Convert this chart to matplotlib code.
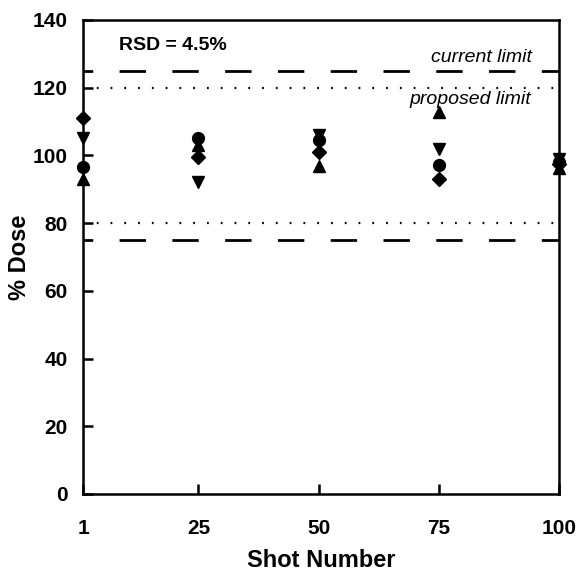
import matplotlib.pyplot as plt

plt.rcParams['font.family'] = ['Liberation Sans', 'DejaVu Sans']

# shot numbers and % dose per sample series
shots = [1, 25, 50, 75, 100]
dose_diamond = [111, 99.5, 101, 93, 97.5]
dose_down = [105, 92, 106, 102, 98.8]
dose_circle = [96.5, 105, 104.5, 97.2, 98]
dose_up = [93, 103, 96.8, 112.7, 96.3]

current_limits = [125, 75]
proposed_limits = [120, 80]

fig = plt.figure(figsize=(5.78, 5.71), dpi=100)
ax = fig.add_axes([0.1436, 0.135, 0.8234, 0.830])

for y in current_limits:
    ax.axhline(y, color="black", lw=2, linestyle=(6, (9.5, 9.5)))
for y in proposed_limits:
    ax.axhline(y, color="black", lw=1.6, linestyle=(0, (0.8, 5.4)))

ax.plot(shots, dose_diamond, "D", color="black", ms=7, clip_on=False, zorder=5)
ax.plot(shots, dose_down, "v", color="black", ms=8.5, clip_on=False, zorder=5)
ax.plot(shots, dose_circle, "o", color="black", ms=8.5, clip_on=False, zorder=5)
ax.plot(shots, dose_up, "^", color="black", ms=8.5, clip_on=False, zorder=5)

ax.text(8.5, 132.6, "RSD = 4.5%", fontsize=14, fontweight="bold", va="center")
ax.text(94.3, 129, "current limit", fontsize=14, fontstyle="italic", ha="right", va="center")
ax.text(94.3, 116.4, "proposed limit", fontsize=14, fontstyle="italic", ha="right", va="center")

ax.set_xlim(1, 100)
ax.set_ylim(0, 140)
ax.set_xticks(shots)
ax.set_yticks(range(0, 141, 20))
ax.tick_params(direction="in", length=7, width=1.8, labelsize=15)
ax.tick_params(axis="y", pad=11)
ax.tick_params(axis="x", pad=18)
for lab in ax.get_xticklabels() + ax.get_yticklabels():
    lab.set_fontweight("bold")
for s in ax.spines.values():
    s.set_linewidth(1.8)

ax.set_xlabel("Shot Number", fontsize=17, fontweight="bold", labelpad=8)
ax.set_ylabel("% Dose", fontsize=17, fontweight="bold", labelpad=1)

fig.savefig("out.png", dpi=100)
